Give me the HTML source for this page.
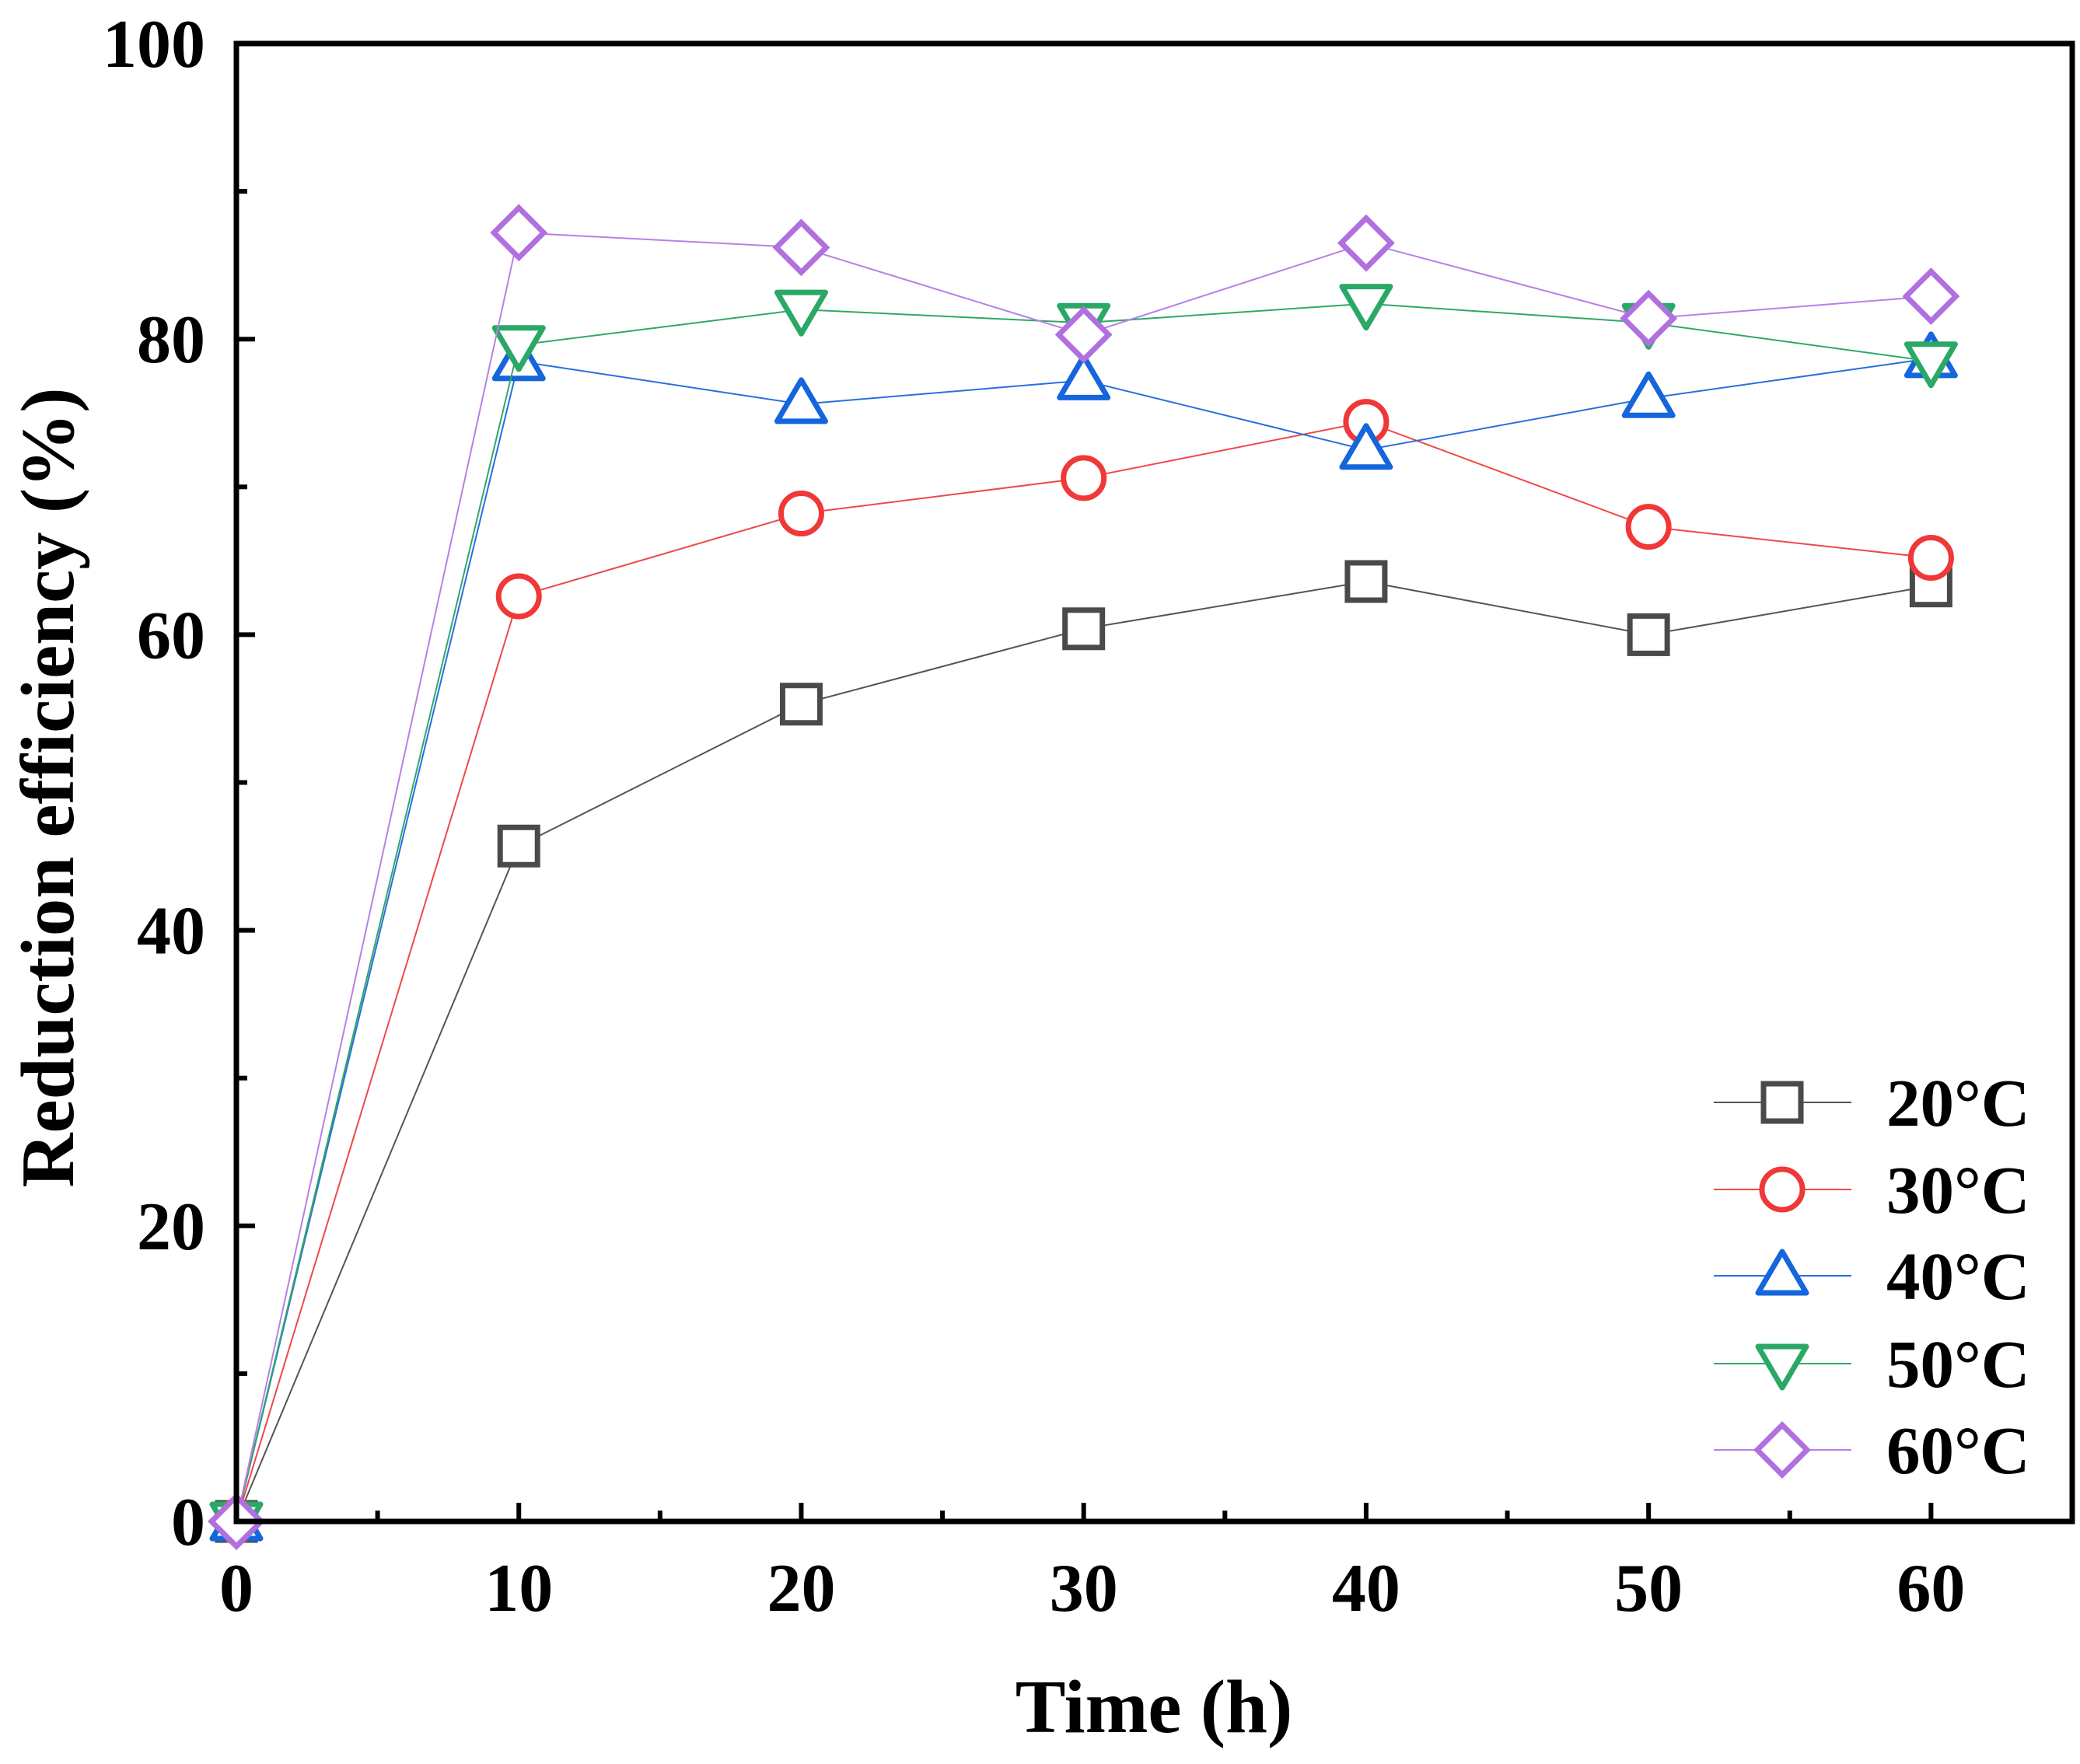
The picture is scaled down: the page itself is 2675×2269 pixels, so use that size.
<!DOCTYPE html>
<html><head><meta charset="utf-8"><style>
html,body{margin:0;padding:0;background:#fff;}
svg text{font-family:"Liberation Serif",serif;font-weight:bold;fill:#000;}
</style></head><body>
<svg id="chart" width="2675" height="2264" viewBox="0 0 2675 2264" xmlns="http://www.w3.org/2000/svg">
<g id="plot"></g>
</svg>
<script>
const times = [0, 10, 20, 30, 40, 50, 60];
const seriesNames = ["20°C", "30°C", "40°C", "50°C", "60°C"];
const s20 = [0, 45.7, 55.3, 60.4, 63.6, 60.0, 63.3];
const s30 = [0, 62.6, 68.2, 70.6, 74.4, 67.3, 65.2];
const s40 = [0, 78.5, 75.6, 77.2, 72.5, 76.0, 78.7];
const s50 = [0, 79.6, 82.0, 81.1, 82.4, 81.1, 78.5];
const s60 = [0, 87.2, 86.2, 80.3, 86.5, 81.4, 82.9];
const xTicks = [0, 10, 20, 30, 40, 50, 60];
const yTicks = [0, 20, 40, 60, 80, 100];

const NS = "http://www.w3.org/2000/svg";
const L = 304, R = 2665, T = 56, B = 1957;
const xMax = 65;
function xs(v){ return L + v / xMax * (R - L); }
function ys(v){ return B - v / 100 * (B - T); }
const g = document.getElementById('plot');
function mk(tag, attrs, parent){
  const e = document.createElementNS(NS, tag);
  for (const k in attrs) e.setAttribute(k, attrs[k]);
  (parent || g).appendChild(e);
  return e;
}
const styles = [
  {line:"#555555", mk:"#4a4a4a", shape:"square"},
  {line:"#f04848", mk:"#f03838", shape:"circle"},
  {line:"#2a6ee0", mk:"#1565dc", shape:"up"},
  {line:"#30a868", mk:"#2aa866", shape:"down"},
  {line:"#b880e6", mk:"#b070e0", shape:"diamond"}
];
const allSeries = [s20, s30, s40, s50, s60];

function marker(shape, cx, cy, color, parent){
  let e;
  const sw = 7;
  if (shape === "square") e = mk('rect', {x:cx-24, y:cy-24, width:48, height:48, fill:'#fff', stroke:color, 'stroke-width':sw}, parent);
  else if (shape === "circle") e = mk('circle', {cx:cx, cy:cy, r:26, fill:'#fff', stroke:color, 'stroke-width':sw}, parent);
  else if (shape === "up") e = mk('polygon', {points:`${cx},${cy-31} ${cx+31},${cy+22} ${cx-31},${cy+22}`, fill:'#fff', stroke:color, 'stroke-width':sw, 'stroke-linejoin':'round'}, parent);
  else if (shape === "down") e = mk('polygon', {points:`${cx},${cy+31} ${cx+31},${cy-22} ${cx-31},${cy-22}`, fill:'#fff', stroke:color, 'stroke-width':sw, 'stroke-linejoin':'round'}, parent);
  else e = mk('polygon', {points:`${cx},${cy-32} ${cx+32},${cy} ${cx},${cy+32} ${cx-32},${cy}`, fill:'#fff', stroke:color, 'stroke-width':sw}, parent);
  return e;
}

allSeries.forEach((data, si) => {
  const sg = mk('g', {});
  
  
  const pts = data.map((v, i) => xs(times[i]) + ',' + ys(v)).join(' ');
  const pl = mk('polyline', {points:pts, fill:'none', stroke:styles[si].line, 'stroke-width':2}, sg);
  
  
  data.forEach((v, i) => {
    const m = marker(styles[si].shape, xs(times[i]), ys(v), styles[si].mk, sg);
    
    
  });
});

const frame = mk('rect', {x:L, y:T, width:R-L, height:B-T, fill:'none', stroke:'#000', 'stroke-width':7});



for (let v = 0; v <= 60; v += 5) {
  const major = v % 10 === 0;
  const t = mk('line', {x1:xs(v), x2:xs(v), y1:B, y2:B-(major?24:14), stroke:'#000', 'stroke-width':6});
  
  
}
xTicks.forEach(v => {
  const t = mk('text', {x:xs(v), y:2072, 'font-size':88, 'text-anchor':'middle'});
  t.textContent = v;
  
  
});
for (let v = 0; v <= 100; v += 10) {
  const major = v % 20 === 0;
  const t = mk('line', {x1:L, x2:L+(major?24:14), y1:ys(v), y2:ys(v), stroke:'#000', 'stroke-width':6});
  
  
}
yTicks.forEach(v => {
  const t = mk('text', {x:264, y:ys(v)+30, 'font-size':88, 'text-anchor':'end'});
  t.textContent = v;
  
  
});

const xt = mk('text', {x:1484, y:2228, 'font-size':97, 'text-anchor':'middle'});
xt.textContent = 'Time (h)';


const yt = mk('text', {x:0, y:0, 'font-size':97, 'text-anchor':'middle', transform:'translate(94,1013) rotate(-90)'});
yt.textContent = 'Reduction efficiency (%)';



const lg = mk('g', {});


const legY = [1418, 1530, 1641, 1754, 1865];
seriesNames.forEach((n, i) => {
  const eg = mk('g', {}, lg);
  
  
  mk('line', {x1:2204, x2:2381, y1:legY[i], y2:legY[i], stroke:styles[i].line, 'stroke-width':2}, eg);
  marker(styles[i].shape, 2292, legY[i], styles[i].mk, eg);
  const t = mk('text', {x:2426, y:legY[i]+30, 'font-size':87}, eg);
  t.textContent = n;
});
</script>
</body></html>
